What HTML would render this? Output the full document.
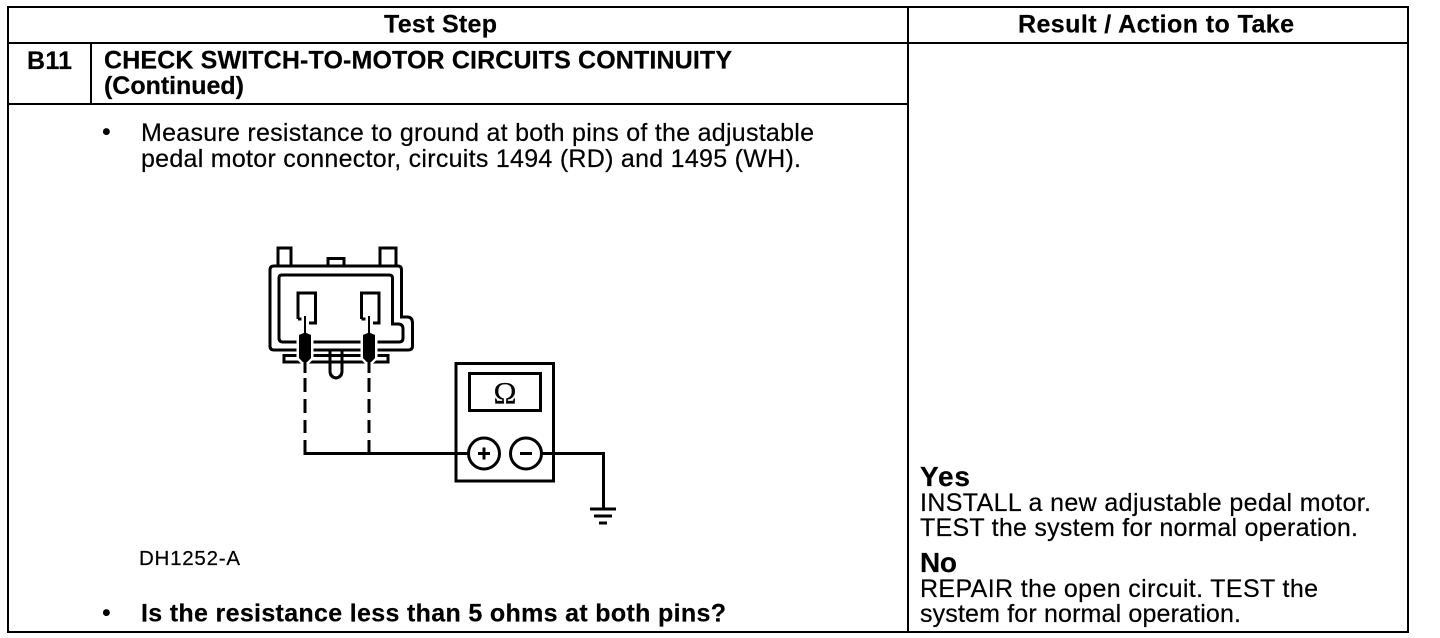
<!DOCTYPE html>
<html><head><meta charset="utf-8"><style>
html,body{margin:0;padding:0;background:#fff}
svg{display:block}
text{font-family:"Liberation Sans",Arial,sans-serif;fill:#000;font-size:25px;stroke:#000;stroke-width:.2px}
.b{font-weight:bold}
</style></head><body>
<svg width="1440" height="638" viewBox="0 0 1440 638" xmlns="http://www.w3.org/2000/svg">
<g fill="none" stroke="#000" stroke-width="2">
<rect x="8" y="7" width="1400" height="625"/>
<path d="M8 43H1408M908 7V632M8 104H908M91 43V104"/>
</g>
<text class="b" x="384" y="32.500" textLength="113">Test Step</text>
<text class="b" x="1018" y="32.500" textLength="276">Result / Action to Take</text>
<text class="b" x="27" y="69" textLength="45">B11</text>
<text class="b" x="104" y="68.500" textLength="628">CHECK SWITCH-TO-MOTOR CIRCUITS CONTINUITY</text>
<text class="b" x="104" y="94" textLength="140">(Continued)</text>
<text x="102" y="140">•</text>
<text x="141" y="141" textLength="673">Measure resistance to ground at both pins of the adjustable</text>
<text x="141" y="167" textLength="660">pedal motor connector, circuits 1494 (RD) and 1495 (WH).</text>
<text x="102" y="621">•</text>
<text class="b" x="141" y="621.500" textLength="585">Is the resistance less than 5 ohms at both pins?</text>
<text x="139" y="565" style="font-size:20.500px" textLength="101">DH1252-A</text>
<text class="b" x="920" y="486" style="font-size:28px" textLength="50">Yes</text>
<text x="920" y="511" textLength="451">INSTALL a new adjustable pedal motor.</text>
<text x="920" y="536" textLength="438">TEST the system for normal operation.</text>
<text class="b" x="920" y="572" style="font-size:28px" textLength="37">No</text>
<text x="920" y="597" textLength="398">REPAIR the open circuit. TEST the</text>
<text x="920" y="622" textLength="321">system for normal operation.</text>

<g fill="none" stroke="#000" stroke-width="3">
<path d="M278 266V248H291V266M380 266V248H396V266M328 266V258.500H344V266"/>
<path d="M274 266H398Q401.500 266 401.500 270V317H407Q412.500 317 412.500 323V346Q412.500 350 408 350H274Q270 350 270 346V270Q270 266 274 266Z"/>
<path d="M282 275H389Q392.500 275 392.500 278V324H398Q403 324 403 329V338Q403 342 399 342H283Q279 342 279 338V278Q279 275 282 275Z"/>
<path d="M298 319V293H315.500V323H309M361.500 319V293H379V323H373M298 319H303M361.500 319H367"/>
<path d="M284 355.500H388V362H284Z"/>
<path d="M330 350V371Q330 377 336 378Q342 377 342 371V350"/>
</g>
<g fill="#000" stroke="#fff" stroke-width="5" paint-order="stroke">
<path d="M304 316H306V333L311 335V358L307 362H303L299 358V335L304 333Z"/>
<path d="M368 316H370V333L375 335V358L371 362H367L363 358V335L368 333Z"/>
</g>
<path d="M304 316H306V333L311 335V358L307 362H303L299 358V335L304 333ZM368 316H370V333L375 335V358L371 362H367L363 358V335L368 333Z" fill="#000"/>
<g fill="none" stroke="#000" stroke-width="3">
<path d="M305 358V373M369 358V373M305 378V392M369 378V392M305 399V413M369 399V413M305 420V433M369 420V433"/>
<path d="M305 440V453.500H468M369 440V453.500M542 453.500H603.500V509"/>
<rect x="456" y="363.500" width="97.500" height="117.500"/>
<rect x="469.500" y="373.500" width="71" height="37"/>
<circle cx="484" cy="453.500" r="15.500" fill="#fff"/>
<circle cx="526" cy="453.500" r="15.500" fill="#fff"/>
<path d="M590 509H616M594 516H612M599 523H607"/>
<path d="M478 453.500H490M484 447.500V459.500M520 453.500H532"/>
</g>
<text x="505" y="403" text-anchor="middle" style="font-family:'Liberation Serif',serif;font-size:31px">Ω</text>
</svg>
</body></html>
